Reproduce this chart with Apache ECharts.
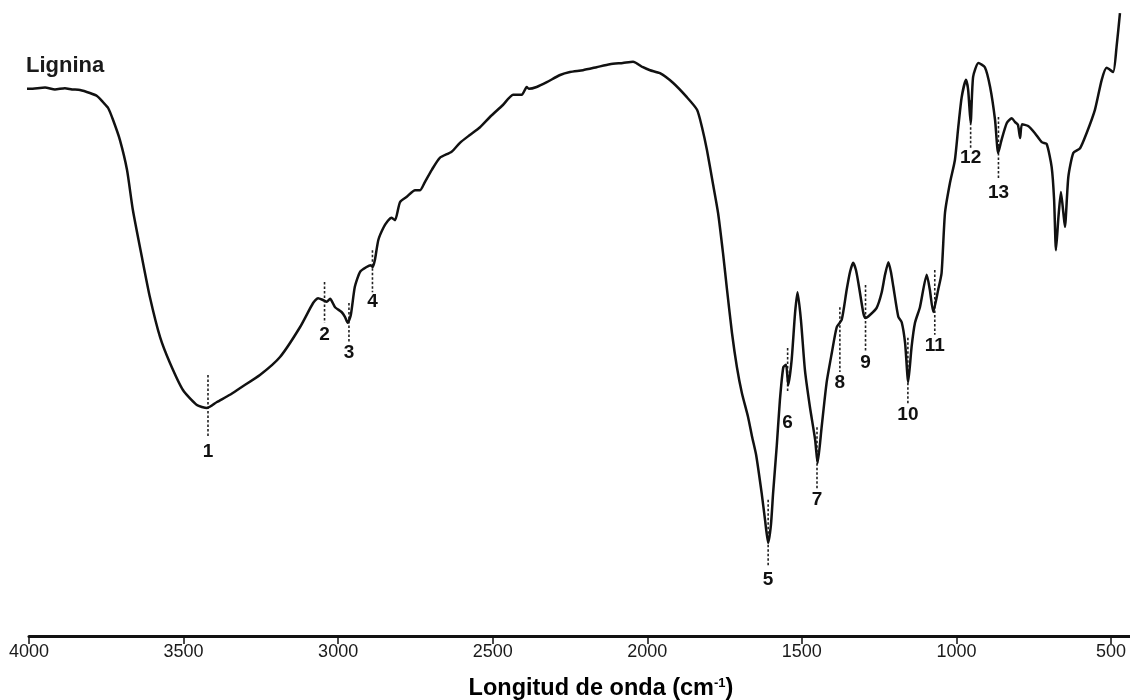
<!DOCTYPE html>
<html>
<head>
<meta charset="utf-8">
<script src="https://cdn.jsdelivr.net/npm/echarts@6/dist/echarts.min.js"></script>
<style>
html,body{margin:0;padding:0;background:#fff;}
#chart{width:1130px;height:700px;}
</style>
</head>
<body>
<div id="chart"></div>
<script>
// Wavenumber (cm-1) and transmittance (arbitrary units)
const wavenumber = [4036, 3997, 3948, 3916, 3884, 3861, 3835, 3803, 3780, 3761, 3744, 3728, 3706, 3683, 3664, 3635, 3609, 3576, 3544, 3502, 3457, 3424, 3392, 3350, 3318, 3253, 3188, 3123, 3081, 3065, 3049, 3037, 3026, 3010, 2989, 2978, 2969, 2959, 2946, 2929, 2908, 2895, 2888, 2881, 2870, 2854, 2839, 2827, 2816, 2800, 2778, 2751, 2735, 2719, 2697, 2671, 2633, 2606, 2574, 2541, 2509, 2467, 2434, 2406, 2390, 2383, 2358, 2325, 2282, 2250, 2208, 2164, 2121, 2079, 2046, 2014, 1991, 1959, 1917, 1872, 1839, 1823, 1807, 1788, 1771, 1755, 1742, 1726, 1710, 1694, 1674, 1661, 1648, 1630, 1619, 1609, 1600, 1593, 1581, 1571, 1560, 1551, 1544, 1533, 1522, 1514, 1503, 1490, 1474, 1457, 1449, 1436, 1420, 1403, 1387, 1371, 1355, 1344, 1334, 1325, 1317, 1301, 1294, 1280, 1258, 1242, 1231, 1220, 1212, 1204, 1188, 1177, 1166, 1156, 1145, 1134, 1118, 1096, 1086, 1075, 1059, 1048, 1037, 1021, 1005, 994, 983, 969, 962, 954, 946, 929, 908, 891, 875, 865, 854, 837, 821, 811, 801, 794, 788, 768, 746, 724, 708, 692, 684, 678, 670, 662, 654, 649, 638, 622, 600, 579, 552, 530, 514, 493, 482, 471];
const transmittance = [91.3, 91.2, 91.4, 91.1, 91.3, 91.1, 91.0, 90.5, 90.0, 89.0, 88.0, 86.0, 82.7, 77.7, 71.0, 63.2, 56.5, 49.8, 45.5, 41.0, 38.5, 38.0, 39.0, 40.2, 41.3, 43.5, 46.5, 51.5, 55.5, 56.3, 56.0, 55.7, 56.2, 54.8, 54.0, 53.2, 52.2, 53.5, 58.2, 60.7, 61.5, 61.8, 61.5, 62.7, 66.0, 68.0, 69.2, 69.7, 69.3, 72.3, 73.2, 74.3, 74.3, 75.7, 77.7, 79.7, 80.7, 82.2, 83.5, 84.8, 86.5, 88.5, 90.2, 90.2, 91.5, 91.2, 91.5, 92.3, 93.5, 94.0, 94.3, 94.8, 95.3, 95.5, 95.7, 94.8, 94.3, 93.8, 92.2, 89.8, 87.7, 84.8, 81.0, 75.5, 70.5, 63.8, 57.7, 50.5, 44.8, 40.5, 36.5, 33.2, 30.2, 23.8, 19.3, 15.5, 18.5, 23.8, 31.8, 39.3, 44.8, 45.2, 41.8, 46.0, 53.8, 57.3, 52.7, 44.3, 38.2, 32.7, 28.8, 34.8, 42.2, 47.2, 51.5, 52.7, 57.7, 60.7, 62.2, 61.0, 58.8, 53.8, 53.0, 53.5, 54.7, 57.2, 60.2, 62.3, 60.7, 58.2, 53.2, 52.3, 48.8, 42.3, 48.2, 52.2, 54.8, 60.2, 57.7, 54.0, 57.7, 60.5, 70.5, 75.5, 79.3, 84.8, 89.8, 92.7, 91.0, 85.5, 93.2, 95.5, 94.8, 91.5, 86.0, 80.5, 82.7, 85.5, 86.3, 85.7, 85.2, 83.0, 85.3, 85.0, 83.8, 82.3, 82.0, 78.2, 72.7, 64.3, 69.8, 74.0, 70.5, 68.2, 76.5, 80.5, 81.3, 83.8, 87.7, 92.7, 94.7, 94.0, 98.2, 103.8];

// Marked bands
const peakNames = ['1','2','3','4','5','6','7','8','9','10','11','12','13'];
const peakWavenumber = [3421, 3044, 2965, 2889, 1609, 1546, 1451, 1377, 1294, 1157, 1070, 954, 864];
const markerTop = [43.5, 59.0, 55.5, 64.3, 22.7, 48.0, 34.8, 54.8, 58.5, 49.7, 61.0, 89.3, 86.5];
const markerBottom = [33.2, 52.2, 48.8, 57.3, 11.8, 40.7, 24.3, 44.0, 47.3, 38.8, 50.2, 81.3, 76.0];
const labelLevel = [30.7, 50.2, 47.2, 55.7, 9.3, 35.5, 22.7, 42.2, 45.5, 36.8, 48.3, 79.7, 73.8];

const xTicks = [500, 1000, 1500, 2000, 2500, 3000, 3500, 4000];

const spectrum = wavenumber.map((w, i) => [w, transmittance[i]]);

const series = [{
  type: 'line',
  data: spectrum,
  showSymbol: false,
  smooth: 0.2,
  clip: false,
  lineStyle: { color: '#111', width: 2.5, join: 'round' },
  z: 5
}];

peakWavenumber.forEach((w, i) => {
  series.push({
    type: 'line',
    data: [[w, markerTop[i]], [w, markerBottom[i]]],
    showSymbol: false,
    clip: false,
    lineStyle: { color: '#222', width: 1.6, type: [2.5, 2] },
    z: 4
  });
});

series.push({
  type: 'scatter',
  symbolSize: 0,
  clip: false,
  itemStyle: { opacity: 1 },
  data: peakWavenumber.map((w, i) => ({ value: [w, labelLevel[i]], name: peakNames[i] })),
  label: {
    show: true,
    position: 'inside',
    formatter: p => p.name,
    fontFamily: 'Liberation Sans, Arial, sans-serif',
    fontWeight: 'bold',
    fontSize: 19,
    color: '#111',
    opacity: 1
  },
  z: 6
});

const chart = echarts.init(document.getElementById('chart'));
chart.setOption({
  animation: false,
  backgroundColor: '#fff',
  grid: { left: 29, top: 0, width: 1236.56, height: 636, outerBoundsMode: 'none', containLabel: false },
  xAxis: {
    type: 'value',
    inverse: true,
    min: 0,
    max: 4000,
    interval: 500,
    splitLine: { show: false },
    axisLine: { show: true, onZero: false, lineStyle: { color: '#111', width: 3 } },
    axisTick: { show: true, length: 8, lineStyle: { color: '#111', width: 1.5 } },
    axisLabel: {
      margin: 7,
      fontFamily: 'Liberation Sans, Arial, sans-serif',
      fontSize: 18,
      color: '#1a1a1a',
      formatter: v => (xTicks.indexOf(v) >= 0 ? String(v) : '')
    }
  },
  yAxis: {
    type: 'value',
    min: 0,
    max: 106,
    show: false,
    splitLine: { show: false }
  },
  graphic: [
    {
      type: 'text',
      left: 26,
      top: 55,
      style: {
        text: 'Lignina',
        font: 'bold 22px "Liberation Sans", Arial, sans-serif',
        fill: '#1a1a1a'
      }
    },
    {
      type: 'text',
      x: 601,
      y: 689,
      style: {
        text: '{a|Longitud de onda (cm}{s|-1}{a|)}',
        align: 'center',
        verticalAlign: 'middle',
        rich: {
          a: { fontFamily: 'Liberation Sans, Arial, sans-serif', fontWeight: 'bold', fontSize: 23.5, color: '#1a1a1a' },
          s: { fontFamily: 'Liberation Sans, Arial, sans-serif', fontWeight: 'bold', fontSize: 13, color: '#1a1a1a', verticalAlign: 'top', padding: [0, 0, 10, 0] }
        }
      }
    }
  ],
  series: series
});
</script>
</body>
</html>
